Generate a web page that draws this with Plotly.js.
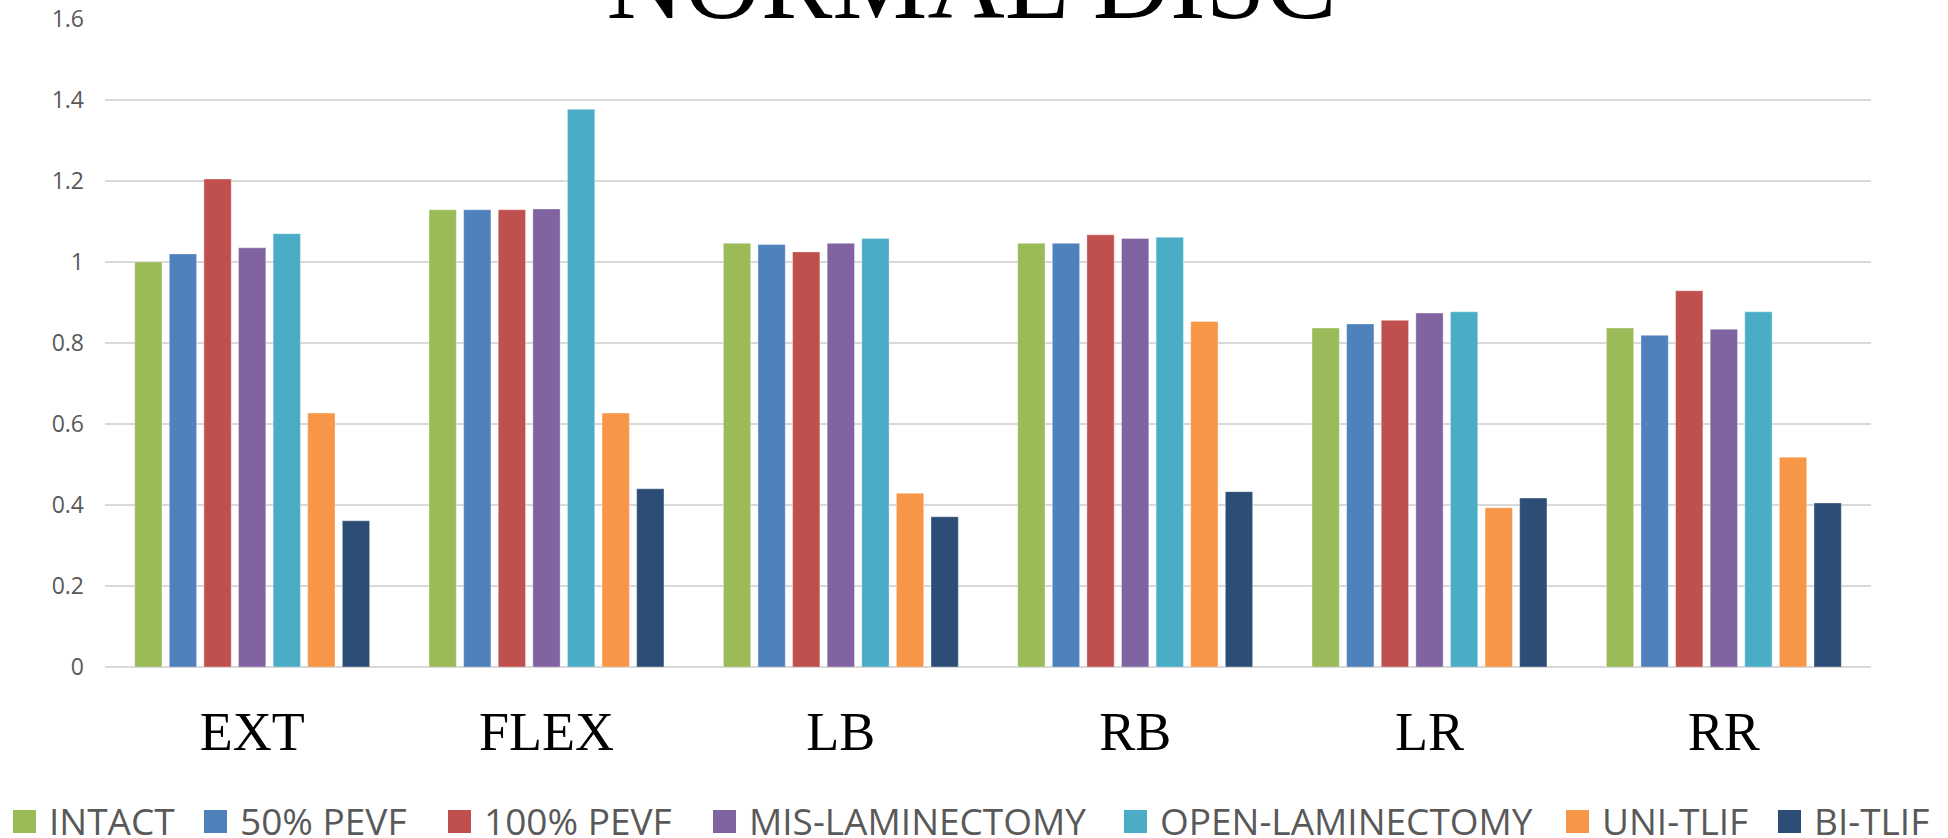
<!DOCTYPE html>
<html><head><meta charset="utf-8">
<script src="https://cdn.plot.ly/plotly-3.0.1.min.js"></script>
<style>html,body{margin:0;padding:0;background:#fff;}#chart{width:1948px;height:838px;}</style>
</head><body><div id="chart"></div>
<script>
// ---- data ----
const categories = ['EXT', 'FLEX', 'LB', 'RB', 'LR', 'RR'];
const seriesNames = ['INTACT', '50% PEVF', '100% PEVF', 'MIS-LAMINECTOMY', 'OPEN-LAMINECTOMY', 'UNI-TLIF', 'BI-TLIF'];
const intact  = [1.000, 1.129, 1.046, 1.046, 0.837, 0.837];
const pevf50  = [1.020, 1.129, 1.043, 1.046, 0.847, 0.819];
const pevf100 = [1.205, 1.129, 1.025, 1.067, 0.856, 0.929];
const misLam  = [1.035, 1.131, 1.046, 1.058, 0.874, 0.834];
const openLam = [1.070, 1.377, 1.058, 1.061, 0.877, 0.877];
const uniTlif = [0.627, 0.627, 0.429, 0.853, 0.393, 0.518];
const biTlif  = [0.361, 0.440, 0.371, 0.433, 0.417, 0.405];
const yTickVals = [0, 0.2, 0.4, 0.6, 0.8, 1, 1.2, 1.4, 1.6];
const yTickText = ['0', '0.2', '0.4', '0.6', '0.8', '1', '1.2', '1.4', '1.6'];
const titleText = 'NORMAL DISC';

// ---- style ----
const colors = ['#9BBB59', '#4F81BD', '#C0504D', '#8064A2', '#4BACC6', '#F79646', '#2C4D75'];
const allSeries = [intact, pevf50, pevf100, misLam, openLam, uniTlif, biTlif];

const W = 1948, H = 838;
const M = {l: 105, r: 77, t: 19, b: 171};
const PW = W - M.l - M.r, PH = H - M.t - M.b;
const px2x = p => (p - M.l) / PW;
const px2y = p => (H - M.b - p) / PH;

const traces = allSeries.map((vals, i) => ({
  type: 'bar',
  name: seriesNames[i],
  x: categories,
  y: vals,
  marker: {color: colors[i], line: {color: 'rgba(255,255,255,0.35)', width: 1}},
  showlegend: false,
  hoverinfo: 'x+y+name'
}));

// custom legend (large squares like the original)
const legendSquareX = [13, 204, 448, 713, 1124, 1566, 1778];
const shapes = [];
const annotations = [];
seriesNames.forEach((n, i) => {
  const x0 = legendSquareX[i];
  shapes.push({type: 'rect', xref: 'paper', yref: 'paper',
    x0: px2x(x0), x1: px2x(x0 + 23), y0: px2y(833), y1: px2y(810),
    fillcolor: colors[i], line: {width: 0}});
  annotations.push({xref: 'paper', yref: 'paper', x: px2x(x0 + 34), y: px2y(820),
    xanchor: 'left', yanchor: 'middle', showarrow: false, text: n,
    font: {family: 'Open Sans', size: 37, color: '#595959'}});
});

const layout = {
  width: W, height: H,
  margin: M,
  paper_bgcolor: '#fff', plot_bgcolor: '#fff',
  title: {text: titleText, font: {family: 'Liberation Serif', size: 107, color: '#000'},
    x: 971.5 / W, xref: 'container', xanchor: 'center',
    y: 1 - 18 / H, yref: 'container', yanchor: 'bottom'},
  barmode: 'group',
  bargap: 0.177,
  bargroupgap: 0.211,
  xaxis: {
    type: 'category',
    tickfont: {family: 'Liberation Serif', size: 54, color: '#000'},
    ticks: '', showline: false, showgrid: false, zeroline: false,
    ticklabelstandoff: 28
  },
  yaxis: {
    range: [0, 1.6],
    tickvals: yTickVals, ticktext: yTickText,
    tickfont: {family: 'Open Sans', size: 23, color: '#595959'},
    ticks: '', showline: false,
    showgrid: true, gridcolor: '#d9d9d9', gridwidth: 1.6,
    zeroline: true, zerolinecolor: '#d9d9d9', zerolinewidth: 1.6,
    ticklabelstandoff: 20
  },
  shapes: shapes,
  annotations: annotations,
  showlegend: false
};

Plotly.newPlot('chart', traces, layout, {displayModeBar: false, responsive: false});
</script>
</body></html>
